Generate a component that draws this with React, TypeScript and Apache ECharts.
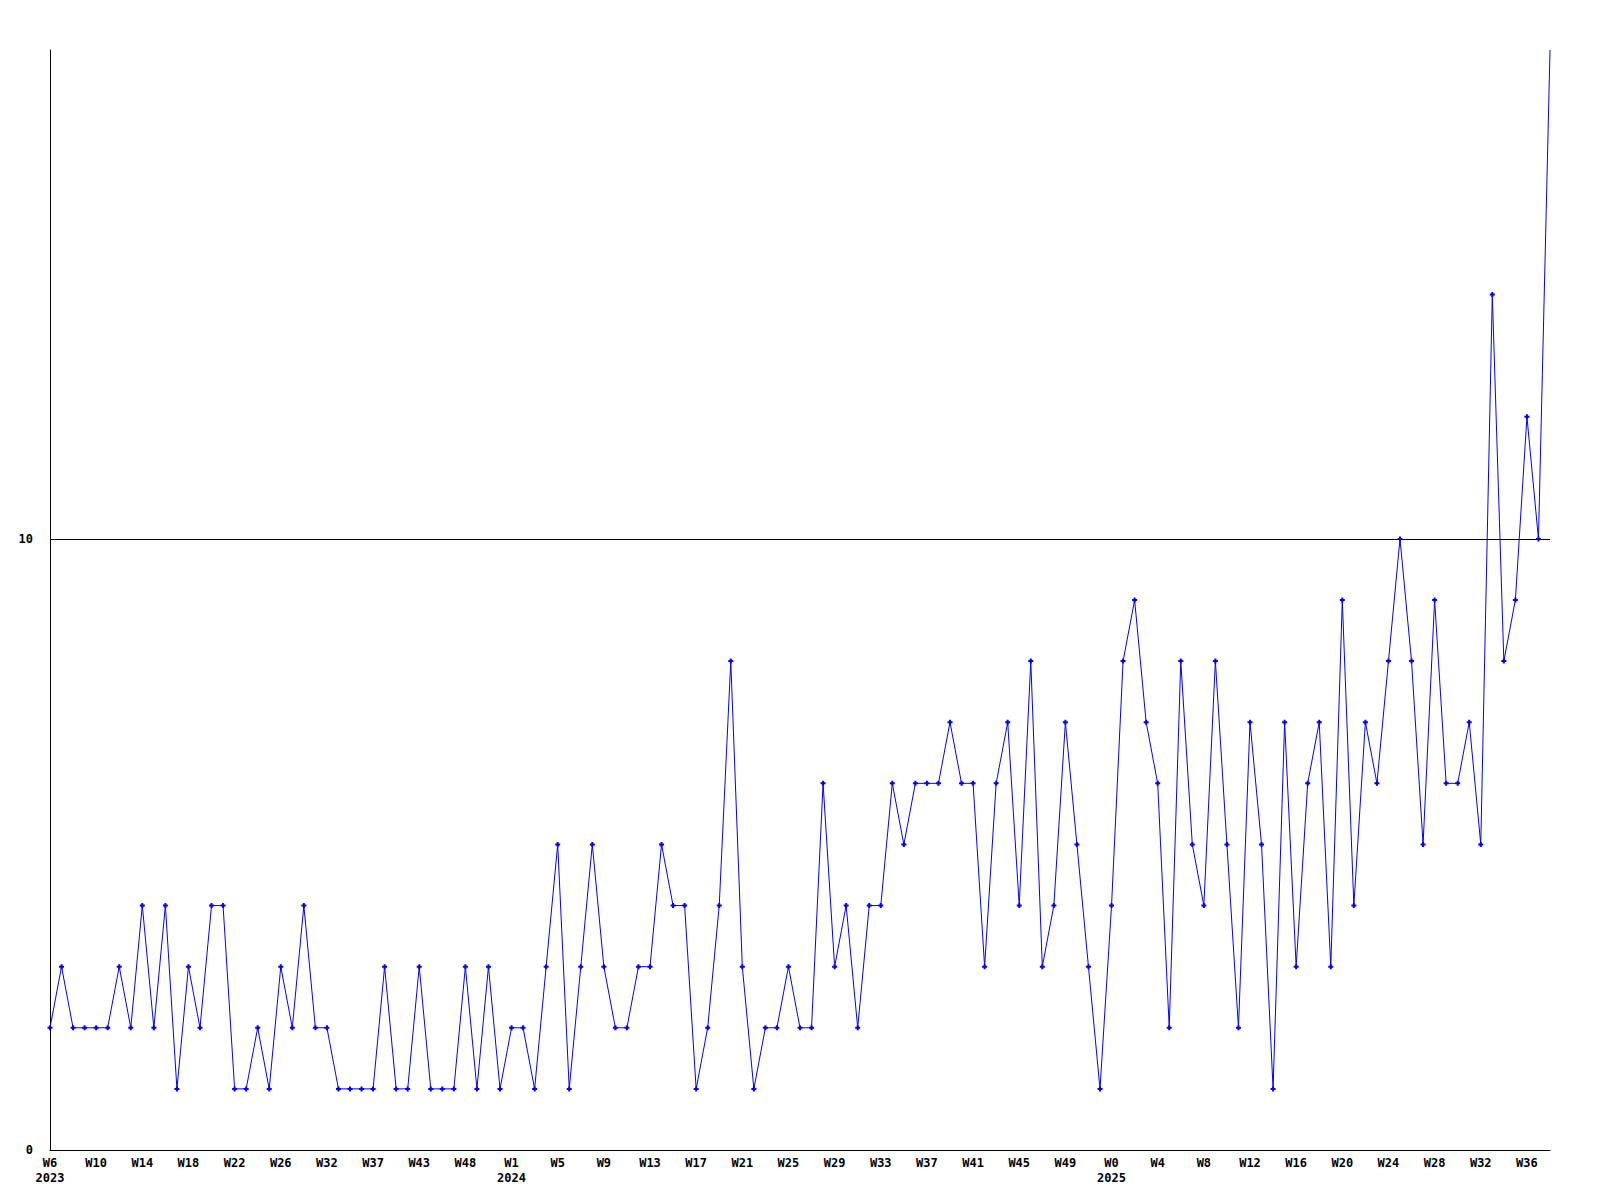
import React, { useEffect, useRef } from "react";
import * as echarts from "echarts";

const tickLabels: string[] = [
  "W6\n2023", "W10", "W14", "W18", "W22", "W26", "W32", "W37", "W43", "W48",
  "W1\n2024", "W5", "W9", "W13", "W17", "W21", "W25", "W29", "W33", "W37",
  "W41", "W45", "W49",
  "W0\n2025", "W4", "W8", "W12", "W16", "W20", "W24", "W28", "W32", "W36",
];

const values2023: number[] = [
  2, 3, 2, 2, 2, 2, 3, 2, 4, 2, 4, 1, 3, 2, 4, 4, 1, 1, 2, 1,
  3, 2, 4, 2, 2, 1, 1, 1, 1, 3, 1, 1, 3, 1, 1, 1, 3, 1, 3, 1,
];
const values2024: number[] = [
  2, 2, 1, 3, 5, 1, 3, 5, 3, 2, 2, 3, 3, 5, 4, 4, 1, 2, 4, 8,
  3, 1, 2, 2, 3, 2, 2, 6, 3, 4, 2, 4, 4, 6, 5, 6, 6, 6, 7, 6,
  6, 3, 6, 7, 4, 8, 3, 4, 7, 5, 3, 1,
];
const values2025: number[] = [
  4, 8, 9, 7, 6, 2, 8, 5, 4, 8, 5, 2, 7, 5, 1, 7, 3, 6, 7, 3,
  9, 4, 7, 6, 8, 10, 8, 5, 9, 6, 6, 7, 5, 14, 8, 9, 12, 10, 18,
];

const values: number[] = [...values2023, ...values2024, ...values2025];
const categories: string[] = values.map((_, i) =>
  i % 4 === 0 && tickLabels[i / 4] !== undefined ? tickLabels[i / 4] : ""
);

const yTicks: number[] = [0, 10];

export default function App() {
  const ref = useRef<HTMLDivElement>(null);
  useEffect(() => {
    if (!ref.current) return;
    const chart = echarts.init(ref.current, undefined, { renderer: "svg" });
    const font = "DejaVu Sans Mono";
    const seriesData = values.map((v, i) =>
      i === values.length - 1 ? { value: v, symbol: "none" } : v
    );
    chart.setOption({
      animation: false,
      backgroundColor: "#ffffff",
      grid: { left: 50, right: 50, top: 50, bottom: 50, containLabel: false },
      xAxis: {
        type: "category",
        data: categories,
        boundaryGap: false,
        axisLine: { show: true, lineStyle: { color: "#000000", width: 1 } },
        axisTick: { show: false },
        splitLine: { show: false },
        axisLabel: {
          interval: 0,
          margin: 5,
          color: "#000000",
          fontFamily: font,
          fontWeight: "bold",
          fontSize: 12,
          lineHeight: 15,
          align: "center",
        },
      },
      yAxis: {
        type: "value",
        min: 0,
        max: 18,
        interval: 10,
        axisLine: { show: true, lineStyle: { color: "#000000", width: 1 } },
        axisTick: { show: false },
        splitLine: { show: false },
        axisLabel: {
          margin: 17,
          color: "#000000",
          fontFamily: font,
          fontWeight: "bold",
          fontSize: 12,
          formatter: (v: number) => (yTicks.includes(v) ? String(v) : ""),
        },
      },
      series: [
        {
          type: "line",
          data: seriesData,
          symbol: "path://M1.5,0H3.5V1.5H5V3.5H3.5V5H1.5V3.5H0V1.5H1.5Z",
          symbolSize: 5,
          showAllSymbol: true,
          lineStyle: { color: "#0000ff", width: 1 },
          itemStyle: { color: "#0000ff" },
          z: 3,
          markLine: {
            silent: true,
            symbol: "none",
            label: { show: false },
            lineStyle: { color: "#000000", width: 1, type: "solid" },
            data: [{ yAxis: 10 }],
            z: 1,
          },
        },
      ],
    });
    return () => chart.dispose();
  }, []);
  return (
    <div
      ref={ref}
      style={{ position: "absolute", left: 0, top: 0, width: 1600, height: 1200 }}
    />
  );
}
